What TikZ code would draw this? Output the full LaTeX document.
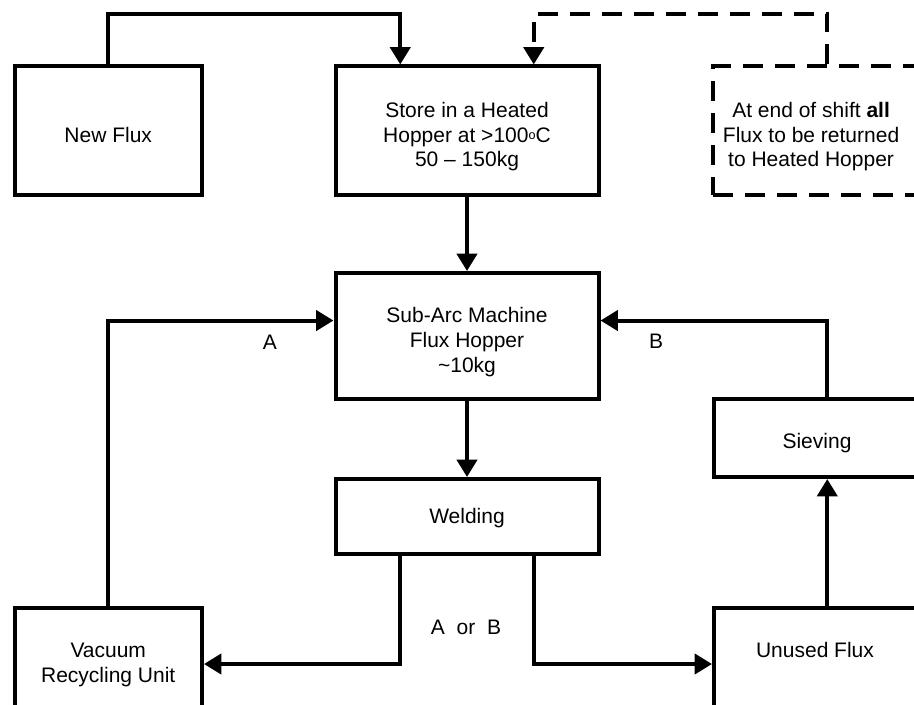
\documentclass[tikz,border=0pt]{standalone}
\usepackage{fontspec}
\setmainfont{Liberation Sans}
\usetikzlibrary{arrows.meta,calc}
\newcommand{\degc}{\raisebox{2pt}{\fontsize{9.5}{9.5}\selectfont o}}
\tikzset{
  box/.style={draw, line width=3pt, inner sep=0pt},
  dbox/.style={box, dash pattern=on 15pt off 9pt},
  lbl/.style={inner sep=0pt, align=center, font=\fontsize{15.75}{18.6}\selectfont},
  arr/.style={line width=3pt, -{Triangle[length=13pt,width=15pt]}},
  darr/.style={arr, dash pattern=on 15pt off 9pt}
}
\begin{document}
\begin{tikzpicture}[x=0.75pt,y=-0.75pt]
\useasboundingbox (0,0) rectangle (914,704);
\clip (0,0) rectangle (914,704);
\node[box, minimum width=140.6pt, minimum height=96.4pt,
  label={[lbl,yshift=-3pt]center:New Flux}] (newflux) at (108.25,130.75) {};
\node[box, minimum width=197.25pt, minimum height=96.4pt,
  label={[lbl,yshift=-4.5pt]center:Store in a Heated\\Hopper at >100\degc C\\50 -- 150kg}] (store) at (467,130.75) {};
\node[dbox, minimum width=162.4pt, minimum height=96.4pt,
  label={[lbl,xshift=-8pt,yshift=-4.5pt]center:At end of shift \textbf{all}\\Flux to be returned\\to Heated Hopper}] (note) at (821.75,130.75) {};
\node[box, minimum width=197.25pt, minimum height=94.5pt,
  label={[lbl,yshift=-4.5pt]center:Sub-Arc Machine\\Flux Hopper\\\textasciitilde10kg}] (subarc) at (467,336) {};
\node[box, minimum width=197.25pt, minimum height=56.25pt,
  label={[lbl,yshift=-1.5pt]center:Welding}] (welding) at (467,516.5) {};
\node[box, minimum width=154.5pt, minimum height=58.5pt,
  label={[lbl,yshift=-3.5pt]center:Sieving}] (sieving) at (817,438) {};
\node[box, minimum width=154.5pt, minimum height=84pt,
  label={[lbl,xshift=-1.5pt,yshift=10.5pt]center:Unused Flux}] (unused) at (817,664) {};
\node[box, minimum width=140.6pt, minimum height=84pt,
  label={[lbl,yshift=-1pt]center:Vacuum\\Recycling Unit}] (vacuum) at (108.25,664) {};
\node[lbl] (la) at (270,342) {A};
\node[lbl] (lb) at (656,341) {B};
\node[lbl] (lab) at (466,627) {A\ \ or\ \ B};
\coordinate (top) at (0,14);
\coordinate (storeinL) at ($(store.north west)!0.25!(store.north east)$);
\coordinate (storeinR) at ($(store.north west)!0.75!(store.north east)$);
\coordinate (noteout) at ($(note.north west)!0.525!(note.north east)$);
\coordinate (subinL) at ($(subarc.north west)!0.381!(subarc.south west)$);
\coordinate (subinR) at ($(subarc.north east)!0.381!(subarc.south east)$);
\coordinate (weldL) at ($(welding.south west)!0.25!(welding.south east)$);
\coordinate (weldR) at ($(welding.south west)!0.75!(welding.south east)$);
\coordinate (sievtop) at ($(sieving.north west)!0.549!(sieving.north east)$);
\coordinate (sievbot) at ($(sieving.south west)!0.549!(sieving.south east)$);
\draw[arr] (newflux.north) -- (newflux.north |- top) -- (storeinL |- top) -- (storeinL);
\draw[darr] (noteout) -- (noteout |- top) -- (storeinR |- top) -- (storeinR);
\draw[arr] (store.south) -- (subarc.north);
\draw[arr] (subarc.south) -- (welding.north);
\draw[arr] (vacuum.north) |- (subinL);
\draw[arr] (sievtop) |- (subinR);
\draw[arr] (sievbot |- unused.north) -- (sievbot);
\draw[arr] (weldL) |- (vacuum.east);
\draw[arr] (weldR) |- (unused.west);
\end{tikzpicture}
\end{document}
